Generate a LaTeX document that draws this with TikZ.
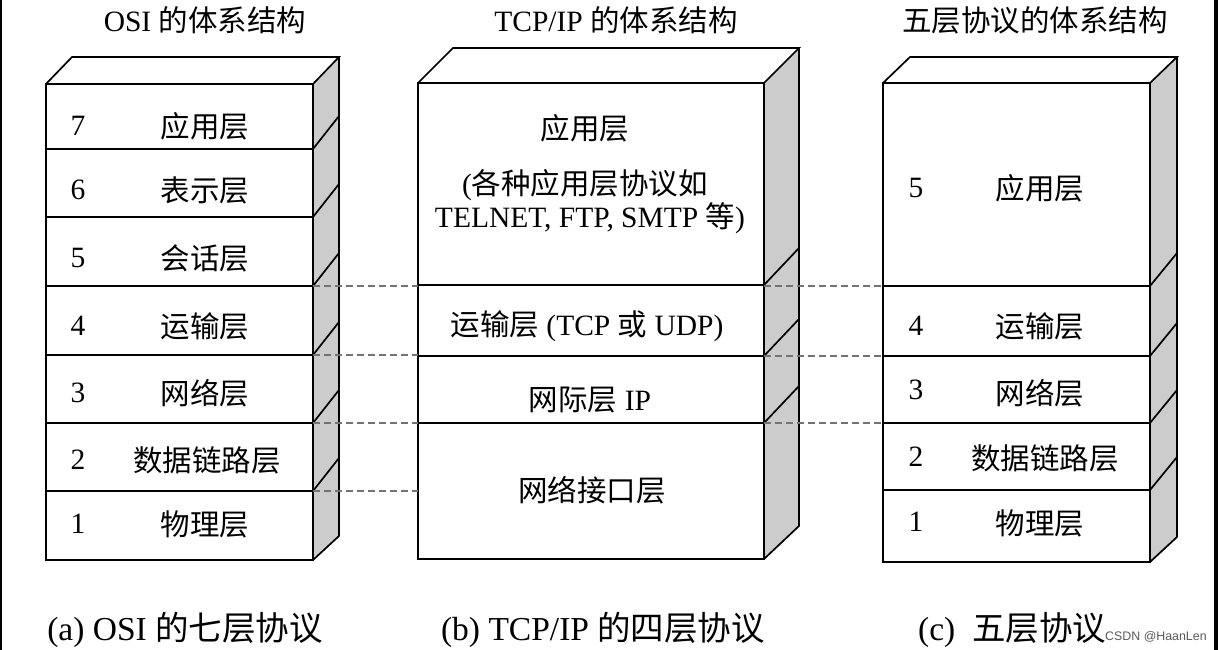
\documentclass[tikz,border=0pt]{standalone}
\usepackage{fontspec}
\setmainfont{Liberation Serif}
\newfontfamily\cjk{Noto Sans CJK SC}
\newfontfamily\wmfont{Liberation Sans}
\newcommand{\zh}[1]{{\cjk #1}}
\begin{document}
\begin{tikzpicture}[x=1pt,y=-1pt,
  edge/.style={line width=1.7pt, line join=miter, draw=black},
  sideface/.style={fill=black!20},
  lbl/.style={font=\fontsize{29.5}{32}\selectfont, inner sep=0pt},
  captiontext/.style={font=\fontsize{33.5}{36}\selectfont, inner sep=0pt},
  dashlink/.style={draw=black!55, dash pattern=on 7pt off 4pt, line width=1.4pt}]
\useasboundingbox (0,0) rectangle (1218,650);
\fill[black] (0,0) rectangle (1.5,650);
\fill[black] (1214,0) rectangle (1218,650);

% ---------- OSI box ----------
\fill[sideface] (313,84) -- (339,57) -- (339,536) -- (313,560) -- cycle;
\draw[edge] (46,84) rectangle (313,560);
\draw[edge] (46,84) -- (72,57) -- (339,57) -- (313,84);
\draw[edge] (339,57) -- (339,536) -- (313,560);
\foreach \y in {149,217,286,355,423,491}{
  \draw[edge] (46,\y) -- (313,\y) -- ++(26,-33);
}
% ---------- TCP/IP box ----------
\fill[sideface] (764,83) -- (799,48) -- (799,526) -- (764,559) -- cycle;
\draw[edge] (418,83) rectangle (764,559);
\draw[edge] (418,83) -- (453,48) -- (799,48) -- (764,83);
\draw[edge] (799,48) -- (799,526) -- (764,559);
\foreach \y in {285,356,423}{
  \draw[edge] (418,\y) -- (764,\y) -- ++(35,-37);
}
% ---------- Five-layer box ----------
\fill[sideface] (1150,83) -- (1177,57) -- (1177,537) -- (1150,562) -- cycle;
\draw[edge] (883,83) rectangle (1150,562);
\draw[edge] (883,83) -- (910,57) -- (1177,57) -- (1150,83);
\draw[edge] (1177,57) -- (1177,537) -- (1150,562);
\foreach \y in {286,356,423,490}{
  \draw[edge] (883,\y) -- (1150,\y) -- ++(27,-33);
}

% ---------- connector end points ----------
\coordinate (osiA) at (313,286);
\coordinate (osiB) at (313,355);
\coordinate (osiC) at (313,423);
\coordinate (osiD) at (313,491);
\coordinate (tcpAl) at (418,286);
\coordinate (tcpBl) at (418,355);
\coordinate (tcpCl) at (418,423);
\coordinate (tcpDl) at (418,491);
\coordinate (tcpAr) at (764,286);
\coordinate (tcpBr) at (764,356);
\coordinate (tcpCr) at (764,423);
\coordinate (fiveA) at (883,286);
\coordinate (fiveB) at (883,356);
\coordinate (fiveC) at (883,423);
\draw[dashlink] (osiA) -- (tcpAl);
\draw[dashlink] (osiB) -- (tcpBl);
\draw[dashlink] (osiC) -- (tcpCl);
\draw[dashlink] (osiD) -- (tcpDl);
\draw[dashlink] (tcpAr) -- (fiveA);
\draw[dashlink] (tcpBr) -- (fiveB);
\draw[dashlink] (tcpCr) -- (fiveC);

% ---------- titles ----------
\node[lbl] (t1) at (205,20) {OSI \zh{的体系结构}};
\node[lbl] (t2) at (616,20) {TCP/IP \zh{的体系结构}};
\node[lbl] (t3) at (1035,20) {\zh{五层协议的体系结构}};

% ---------- OSI labels ----------
\node[lbl] (on7) at (78,126) {7};
\node[lbl] (on6) at (78,190) {6};
\node[lbl] (on5) at (78,258) {5};
\node[lbl] (on4) at (78,326) {4};
\node[lbl] (on3) at (78,393) {3};
\node[lbl] (on2) at (78,460) {2};
\node[lbl] (on1) at (78,524) {1};
\node[lbl] (ol7) at (205,126) {\zh{应用层}};
\node[lbl] (ol6) at (205,190) {\zh{表示层}};
\node[lbl] (ol5) at (205,258) {\zh{会话层}};
\node[lbl] (ol4) at (205,326) {\zh{运输层}};
\node[lbl] (ol3) at (205,393) {\zh{网络层}};
\node[lbl] (ol2) at (207,460) {\zh{数据链路层}};
\node[lbl] (ol1) at (205,524) {\zh{物理层}};

% ---------- TCP/IP labels ----------
\node[lbl] (tl4) at (585,128) {\zh{应用层}};
\node[lbl] (tl4b) at (585,185) {(\zh{各种应用层协议如}};
\node[lbl] (tl4c) at (590,218) {TELNET, FTP, SMTP \zh{等})};
\node[lbl] (tl3) at (587,326) {\zh{运输层} (TCP \zh{或} UDP)};
\node[lbl] (tl2) at (590,400) {\zh{网际层} IP};
\node[lbl] (tl1) at (592,490) {\zh{网络接口层}};

% ---------- five-layer labels ----------
\node[lbl] (fn5) at (916,188) {5};
\node[lbl] (fn4) at (916,326) {4};
\node[lbl] (fn3) at (916,390) {3};
\node[lbl] (fn2) at (916,457) {2};
\node[lbl] (fn1) at (916,522) {1};
\node[lbl] (fl5) at (1040,188) {\zh{应用层}};
\node[lbl] (fl4) at (1040,326) {\zh{运输层}};
\node[lbl] (fl3) at (1040,393) {\zh{网络层}};
\node[lbl] (fl2) at (1045,458) {\zh{数据链路层}};
\node[lbl] (fl1) at (1040,523) {\zh{物理层}};

% ---------- captions ----------
\node[captiontext] (c1) at (185,630) {(a) OSI \zh{的七层协议}};
\node[captiontext] (c2) at (603,630) {(b) TCP/IP \zh{的四层协议}};
\node[captiontext, anchor=west] (c3) at (918,630) {(c)\ \ \zh{五层协议}};
\node[font=\wmfont\fontsize{12.4}{15}\selectfont, text=black!65, inner sep=0pt, anchor=west] (wm) at (1105,637) {CSDN @HaanLen};
\end{tikzpicture}
\end{document}
